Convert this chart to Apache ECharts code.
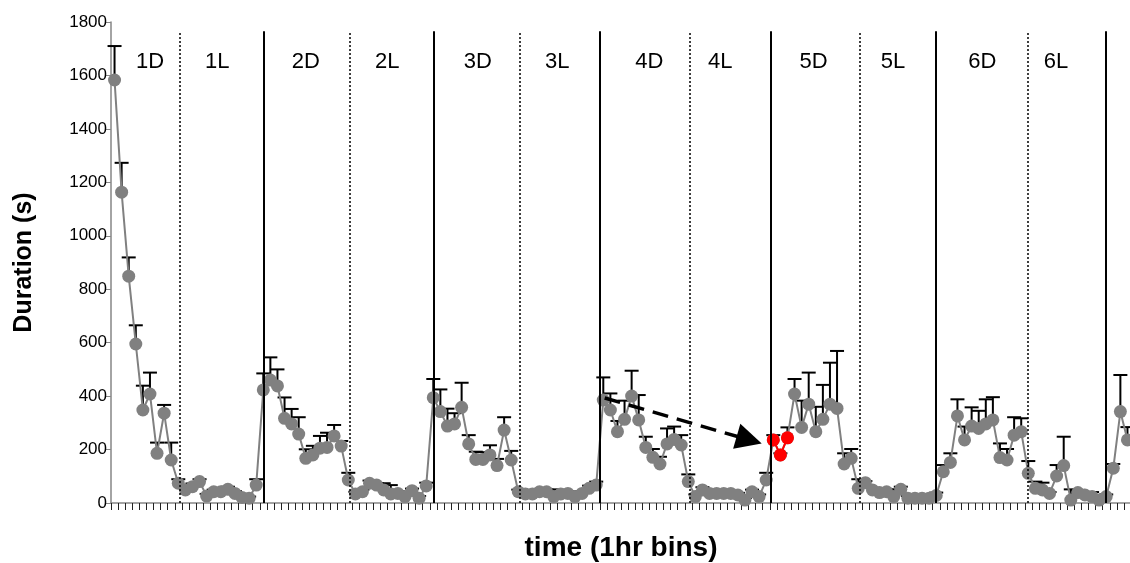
<!DOCTYPE html>
<html>
<head>
<meta charset="utf-8">
<script src="https://cdn.jsdelivr.net/npm/echarts@6/dist/echarts.min.js"></script>
<style>
html, body { margin: 0; padding: 0; background: #fff; }
#chart { width: 1130px; height: 563px; }
</style>
</head>
<body>
<div id="chart"></div>
<script>
//---------------------------Data---------------------------
//mean duration per 1hr bin (s)
let durations = [
    1583, 1163, 849, 595, 348, 408, 186, 336, 161,
    74, 49, 61, 80, 26, 42, 42, 51, 36, 21, 18, 67,
    423, 460, 438, 317, 296, 258, 167, 180, 205, 208, 251, 213,
    86, 34, 42, 74, 67, 49, 34, 36, 24, 46, 18, 64,
    394, 342, 288, 296, 358, 221, 163, 163, 180, 140, 273, 161,
    42, 34, 34, 42, 42, 24, 34, 36, 24, 36, 55, 67,
    385, 348, 267, 313, 400, 311, 208, 171, 146, 221, 238, 217,
    80, 24, 49, 36, 36, 36, 36, 30, 11, 42, 24, 86,
    236, 180, 244, 408, 283, 370, 267, 313, 370, 354, 146, 167,
    55, 76, 49, 39, 42, 24, 51, 18, 18, 18, 18, 28,
    117, 152, 326, 236, 288, 279, 296, 311, 170, 161, 254, 267,
    111, 55, 49, 36, 101, 140, 11, 39, 30, 24, 11, 24,
    130, 342, 236
];

//upper error bar per bin (s)
let errors = [
    127, 110, 70, 70, 91, 80, 40, 31, 65,
    15, 10, 12, 9, 8, 8, 8, 10, 8, 8, 6, 22,
    62, 85, 62, 78, 56, 63, 34, 34, 46, 55, 41, 19,
    27, 8, 8, 10, 8, 25, 33, 8, 8, 8, 8, 12,
    70, 83, 65, 40, 92, 33, 29, 27, 36, 25, 48, 34,
    8, 8, 8, 8, 8, 27, 8, 8, 8, 8, 10, 13,
    85, 62, 40, 70, 95, 93, 40, 31, 27, 58, 48, 37,
    27, 8, 10, 8, 8, 8, 8, 8, 8, 8, 8, 27,
    18, 6, 39, 56, 100, 118, 93, 129, 155, 215, 40, 35,
    34, 6, 8, 8, 8, 27, 10, 8, 8, 8, 8, 11,
    25, 34, 62, 50, 70, 66, 92, 85, 53, 41, 67, 50,
    46, 25, 27, 5, 41, 108, 40, 10, 8, 17, 8, 8,
    16, 137, 48
];

//bins highlighted in red
let redBins = [93, 94, 95];

//dark/light phase labels
let phaseNames = ['1D', '1L', '2D', '2L', '3D', '3L', '4D', '4L', '5D', '5L', '6D', '6L'];
let phasePos = [5.5, 15, 27.5, 39, 51.8, 63, 76, 86, 99.2, 110.4, 123, 133.4];

//separators (in bins)
let dayLines = [21.5, 45.5, 69, 93.2, 116.5, 140.5];
let lightLines = [9.75, 33.7, 57.7, 81.7, 105.7, 129.4];

//arrow from 4D start to 5D start
let arrowFrom = [69.7, 393];
let arrowTo = [90.1, 236];

let yTicks = { min: 0, max: 1800, step: 200 };

//---------------------------UI---------------------------
let chart = echarts.init(document.getElementById('chart'));
let font = '"Liberation Sans", Arial, sans-serif';

let points = durations.map(function (v, i) { return [i + 0.5, v]; });
let redPoints = redBins.map(function (i) { return [i + 0.5, durations[i]]; });
let bars = durations.map(function (v, i) { return [i + 0.5, v, v + errors[i]]; });

let sepLines = [];
for (let i = 0; i < dayLines.length; i++) {
    sepLines.push([
        { coord: [dayLines[i], 0], lineStyle: { type: 'solid', width: 2, color: '#000' } },
        { coord: [dayLines[i], 1765] }
    ]);
}
for (let i = 0; i < lightLines.length; i++) {
    sepLines.push([
        { coord: [lightLines[i], 0], lineStyle: { type: [2, 2], width: 1.5, color: '#000' } },
        { coord: [lightLines[i], 1765] }
    ]);
}

let labelPoints = [];
for (let i = 0; i < phaseNames.length; i++) {
    labelPoints.push({ name: phaseNames[i], coord: [phasePos[i], 1650] });
}

function renderErrorBar(params, api) {
    let x = api.value(0);
    let top = api.coord([x, api.value(2)]);
    let base = api.coord([x, api.value(1)]);
    let half = 7;
    return {
        type: 'group',
        children: [
            { type: 'line', shape: { x1: base[0], y1: base[1], x2: top[0], y2: top[1] },
              style: { stroke: '#000', lineWidth: 2 } },
            { type: 'line', shape: { x1: top[0] - half, y1: top[1], x2: top[0] + half, y2: top[1] },
              style: { stroke: '#000', lineWidth: 2 } }
        ]
    };
}

let option = {
    animation: false,
    backgroundColor: '#fff',
    textStyle: { fontFamily: font },
    grid: { left: 111, right: -1, top: 22, bottom: 60, outerBoundsMode: 'none', containLabel: false },
    xAxis: {
        type: 'value',
        min: 0,
        max: durations.length,
        interval: 1,
        name: 'time (1hr bins)',
        nameLocation: 'middle',
        nameGap: 31,
        nameTextStyle: { fontFamily: font, fontSize: 28, fontWeight: 'bold', color: '#000' },
        axisLine: { show: true, lineStyle: { color: '#868686', width: 1.5 } },
        axisTick: { show: true, inside: false, length: 7, lineStyle: { color: '#222', width: 1 } },
        axisLabel: { show: false },
        splitLine: { show: false }
    },
    yAxis: {
        type: 'value',
        min: yTicks.min,
        max: yTicks.max,
        interval: yTicks.step,
        name: 'Duration (s)',
        nameLocation: 'middle',
        nameRotate: 90,
        nameGap: 74,
        nameTextStyle: { fontFamily: font, fontSize: 25, fontWeight: 'bold', color: '#000' },
        axisLine: { show: true, lineStyle: { color: '#868686', width: 1.5 } },
        axisTick: { show: true, length: 5, lineStyle: { color: '#868686' } },
        axisLabel: {
            fontFamily: font, fontSize: 17, color: '#000', margin: 4,
            formatter: function (v) { return String(v); }
        },
        splitLine: { show: false }
    },
    series: [
        {
            type: 'custom',
            name: 'sem',
            data: bars,
            renderItem: renderErrorBar,
            z: 1,
            silent: true
        },
        {
            type: 'line',
            name: 'duration',
            data: points,
            symbol: 'circle',
            symbolSize: 13,
            itemStyle: { color: '#808080' },
            lineStyle: { color: '#808080', width: 2 },
            z: 2,
            markLine: {
                silent: true,
                symbol: 'none',
                label: { show: false },
                data: sepLines
            },
            markPoint: {
                silent: true,
                symbol: 'circle',
                symbolSize: 1,
                itemStyle: { color: 'rgba(0,0,0,0)' },
                label: { show: true, position: 'inside', formatter: '{b}', fontFamily: font, fontSize: 22, color: '#000' },
                data: labelPoints
            }
        },
        {
            type: 'line',
            name: 'red',
            data: redPoints,
            symbol: 'circle',
            symbolSize: 13,
            itemStyle: { color: '#ff0000' },
            lineStyle: { color: '#ff0000', width: 2 },
            z: 3,
            markLine: {
                silent: true,
                symbol: ['none', 'triangle'],
                symbolSize: 26,
                label: { show: false },
                itemStyle: { color: '#000' },
                lineStyle: { type: [16, 9], width: 3.5, color: '#000' },
                data: [[{ coord: arrowFrom }, { coord: arrowTo }]]
            }
        }
    ]
};

chart.setOption(option);
</script>
</body>
</html>
